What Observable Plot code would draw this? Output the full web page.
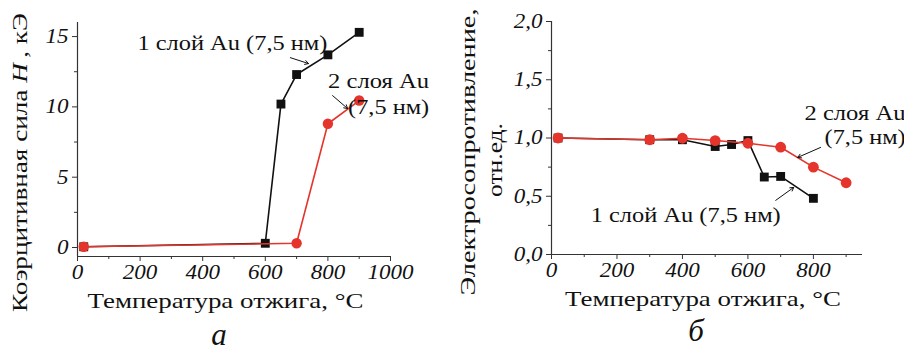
<!DOCTYPE html>
<html>
<head>
<meta charset="utf-8">
<script src="https://cdn.jsdelivr.net/npm/d3@7"></script>
<script src="https://cdn.jsdelivr.net/npm/@observablehq/plot@0.6"></script>
<style>
  body { margin: 0; background: white; }
  #wrap { position: relative; width: 904px; height: 353px; overflow: hidden; background: white; }
  #pa, #pb { position: absolute; top: 0; }
  #pa { left: 0; }
  #pb { left: 450px; }
  svg { overflow: visible; }
  #wrap svg text, #wrap svg tspan { font-family: "Liberation Serif", "DejaVu Serif", "Times New Roman", serif !important; }
</style>
</head>
<body>
<div id="wrap"><div id="pa"></div><div id="pb"></div></div>
<script>
// ---- Panel а: coercive force vs annealing temperature ----
const aTemp1 = [20, 600, 650, 700, 800, 900];
const aH1    = [0.05, 0.3, 10.2, 12.3, 13.7, 15.3];
const aTemp2 = [20, 700, 800, 900];
const aH2    = [0.05, 0.3, 8.8, 10.45];
const aXTicks = [0, 200, 400, 600, 800, 1000];
const aXMinor = [100, 300, 500, 700, 900];
const aYTicks = [0, 5, 10, 15];
const aYMinor = [2.5, 7.5, 12.5];
const aXLabel = "Температура отжига, °С";
const aYLabel = "Коэрцитивная сила H, кЭ";
const aPanel = "а";
const aNoteText = ["1 слой Au (7,5 нм)", "2 слоя Au", "(7,5 нм)"];
const aNoteX = [495, 962, 994];
const aNoteY = [14.5, 11.8, 9.95];
const aArrX1 = [680, 815], aArrY1 = [13.5, 10.8];
const aArrX2 = [738, 863], aArrY2 = [13.08, 9.88];

// ---- Panel б: resistance vs annealing temperature ----
const bTemp1 = [20, 300, 400, 500, 550, 600, 650, 700, 800];
const bR1    = [1.0, 0.985, 0.985, 0.927, 0.944, 0.978, 0.665, 0.67, 0.482];
const bTemp2 = [20, 300, 400, 500, 600, 700, 800, 900];
const bR2    = [1.0, 0.985, 0.998, 0.978, 0.955, 0.921, 0.75, 0.616];
const bXTicks = [0, 200, 400, 600, 800];
const bXMinor = [100, 300, 500, 700, 900];
const bYTicks = [0, 0.5, 1.0, 1.5, 2.0];
const bYMinor = [0.25, 0.75, 1.25, 1.75];
const bXLabel = "Температура отжига, °С";
const bYLabel1 = "Электросопротивление,";
const bYLabel2 = "отн.ед.";
const bPanel = "б";
const bNoteText = ["2 слоя Au", "(7,5 нм)", "1 слой Au (7,5 нм)"];
const bNoteX = [927, 958, 410];
const bNoteY = [1.21, 1.004, 0.336];
const bArrX1 = [822, 685], bArrY1 = [0.919, 0.465];
const bArrX2 = [752, 740], bArrY2 = [0.833, 0.576];

const BLACK = "#111111", RED = "#e5342b", AXIS = "#333333";
const FONT = "Liberation Serif";

// rendered widths (px) of the wide serif lettering in the reference
const textWidths = new Map([
  [aXLabel, 276], [aYLabel, 299], [bYLabel1, 287], [bYLabel2, 74],
  ["1 слой Au (7,5 нм)", 190], ["2 слоя Au", 101], ["(7,5 нм)", 81]
]);
const TICK_STRETCH = 1.15;

const zip = (xs, ys) => xs.map((x, i) => ({x, y: ys[i]}));
const notes = (t, xs, ys) => t.map((s, i) => ({s, x: xs[i], y: ys[i]}));
const arrows = (x1, y1, x2, y2) => x1.map((v, i) => ({x1: v, y1: y1[i], x2: x2[i], y2: y2[i]}));
const comma = d => d.toFixed(1).replace(".", ",");

function axes(xT, xM, yT, yM, fmtY, yMin, xMin) {
  const tickText = {fontSize: 20, fontStyle: "italic", fontFamily: FONT, fill: BLACK};
  return [
    Plot.ruleX([xMin], {stroke: AXIS, strokeWidth: 1.2}),
    Plot.ruleY([yMin], {stroke: AXIS, strokeWidth: 1.2}),
    Plot.axisX(xT, {tickSize: 5, tickPadding: 3, stroke: AXIS, label: null, tickFormat: d => String(d), ...tickText}),
    Plot.axisX(xM, {tickSize: 3, stroke: AXIS, label: null, tickFormat: () => ""}),
    Plot.axisY(yT, {tickSize: 5, tickPadding: 4, stroke: AXIS, label: null, tickFormat: fmtY, ...tickText}),
    Plot.axisY(yM, {tickSize: 3, stroke: AXIS, label: null, tickFormat: () => ""})
  ];
}

function series(xs, ys, color, symbol, r) {
  const d = zip(xs, ys);
  return [
    Plot.line(d, {x: "x", y: "y", stroke: color, strokeWidth: 1.6}),
    Plot.dot(d, {x: "x", y: "y", symbol, r, fill: color, stroke: "none"})
  ];
}

const lbl = {fontSize: 21, fontFamily: FONT, fill: BLACK, text: d => d};
const note = {fontSize: 20, fontFamily: FONT, fill: BLACK};

const plotA = Plot.plot({
  width: 450, height: 353,
  marginLeft: 77, marginRight: 60, marginTop: 22, marginBottom: 97,
  x: {domain: [0, 1000]},
  y: {domain: [-0.64, 16]},
  style: {fontFamily: FONT, background: "white", color: BLACK},
  marks: [
    ...axes(aXTicks, aXMinor, aYTicks, aYMinor, d => String(d), -0.64, 0),
    ...series(aTemp1, aH1, BLACK, "square", 5),
    ...series(aTemp2, aH2, RED, "circle", 5.2),
    Plot.arrow(arrows(aArrX1, aArrY1, aArrX2, aArrY2), {x1: "x1", y1: "y1", x2: "x2", y2: "y2", stroke: BLACK, strokeWidth: 1, headLength: 6}),
    Plot.text(notes(aNoteText, aNoteX, aNoteY), {x: "x", y: "y", text: "s", ...note}),
    Plot.text([aXLabel], {...lbl, frameAnchor: "bottom", dx: -8.5, dy: 51}),
    Plot.text([aYLabel], {...lbl, frameAnchor: "left", textAnchor: "middle", dx: -57, dy: 23, rotate: -90}),
    Plot.text([aPanel], {...lbl, frameAnchor: "bottom", dx: -15, dy: 88, fontSize: 31, fontStyle: "italic"})
  ]
});

const plotB = Plot.plot({
  width: 454, height: 353,
  marginLeft: 101, marginRight: 42, marginTop: 21, marginBottom: 99,
  x: {domain: [0, 950]},
  y: {domain: [0, 2]},
  style: {fontFamily: FONT, background: "white", color: BLACK},
  marks: [
    ...axes(bXTicks, bXMinor, bYTicks, bYMinor, comma, 0, 0),
    ...series(bTemp1, bR1, BLACK, "square", 5),
    ...series(bTemp2, bR2, RED, "circle", 5.4),
    Plot.arrow(arrows(bArrX1, bArrY1, bArrX2, bArrY2), {x1: "x1", y1: "y1", x2: "x2", y2: "y2", stroke: BLACK, strokeWidth: 1, headLength: 6}),
    Plot.text(notes(bNoteText, bNoteX, bNoteY), {x: "x", y: "y", text: "s", ...note}),
    Plot.text([bXLabel], {...lbl, frameAnchor: "bottom", dx: -4, dy: 51}),
    Plot.text([bYLabel1], {...lbl, frameAnchor: "left", textAnchor: "middle", dx: -83, dy: 14, rotate: -90}),
    Plot.text([bYLabel2], {...lbl, frameAnchor: "left", textAnchor: "middle", dx: -56, dy: 22, rotate: -90}),
    Plot.text([bPanel], {...lbl, frameAnchor: "bottom", dx: -11, dy: 86, fontSize: 31, fontStyle: "italic"})
  ]
});

document.getElementById("pa").appendChild(plotA);
document.getElementById("pb").appendChild(plotB);

// italicise the symbol H inside the y label of panel а
for (const t of plotA.querySelectorAll("text")) {
  if (t.textContent === aYLabel) {
    const [pre, post] = aYLabel.split("H");
    t.textContent = "";
    const ns = "http://www.w3.org/2000/svg";
    const s1 = document.createElementNS(ns, "tspan"); s1.textContent = pre;
    const s2 = document.createElementNS(ns, "tspan"); s2.textContent = "H\u2009"; s2.setAttribute("font-style", "italic");
    const s3 = document.createElementNS(ns, "tspan"); s3.textContent = post;
    t.append(s1, s2, s3);
  }
}

// widen the lettering to the reference's wide serif face
for (const svg of [plotA, plotB]) {
  for (const t of svg.querySelectorAll("text")) {
    const s = t.textContent.replace("\u2009", "");
    if (!s.trim()) continue;
    let target = textWidths.get(s);
    const g = t.closest("g[aria-label]");
    if (target == null && g && /tick label/.test(g.getAttribute("aria-label"))) {
      target = t.getComputedTextLength() * TICK_STRETCH;
    }
    if (target != null) {
      t.setAttribute("textLength", target);
      t.setAttribute("lengthAdjust", "spacingAndGlyphs");
    }
  }
}
</script>
</body>
</html>
